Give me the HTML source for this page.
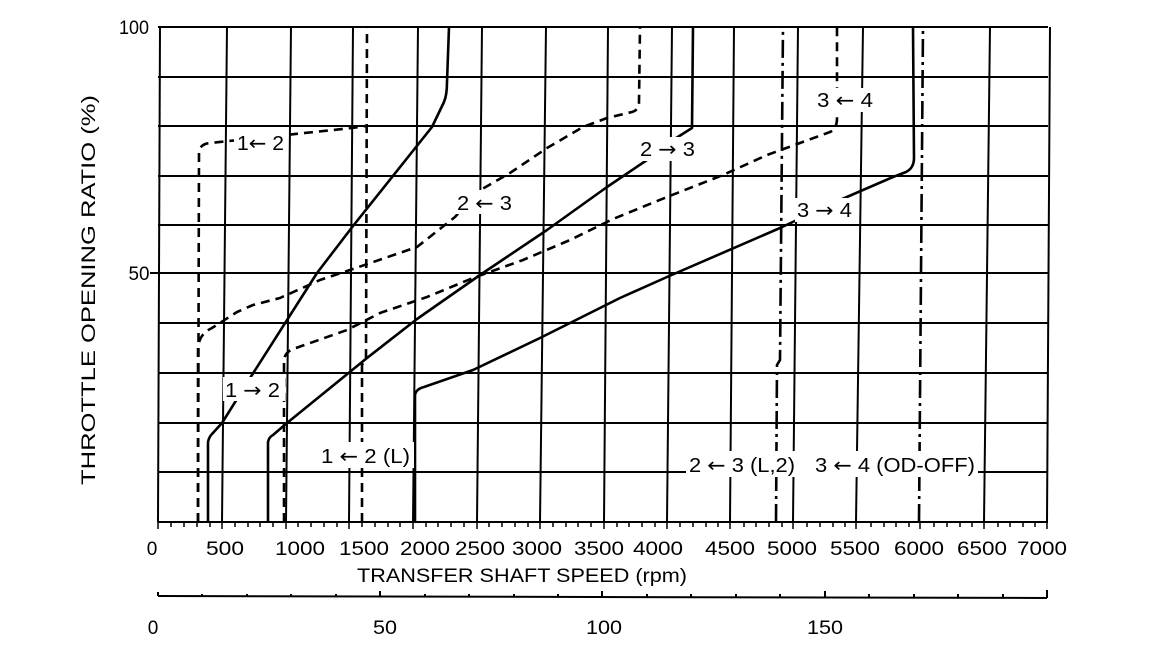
<!DOCTYPE html>
<html><head><meta charset="utf-8"><style>
html,body{margin:0;padding:0;background:#fff;}
svg{display:block;}
text{font-family:"Liberation Sans",sans-serif;fill:#000;}
.ar{font-family:"DejaVu Sans",sans-serif;}
</style></head><body>
<svg width="1152" height="652" viewBox="0 0 1152 652" xmlns="http://www.w3.org/2000/svg">
<rect width="1152" height="652" fill="#fff"/>
<g stroke="#000" stroke-width="2" fill="none">
<line x1="158" y1="27" x2="1048" y2="27"/>
<line x1="158" y1="77" x2="1048" y2="77"/>
<line x1="158" y1="126" x2="1048" y2="126"/>
<line x1="158" y1="176" x2="1048" y2="176"/>
<line x1="158" y1="225" x2="1048" y2="225"/>
<line x1="150" y1="273" x2="1048" y2="273"/>
<line x1="158" y1="323" x2="1048" y2="323"/>
<line x1="158" y1="373" x2="1048" y2="373"/>
<line x1="158" y1="423" x2="1048" y2="423"/>
<line x1="158" y1="472" x2="1048" y2="472"/>
<line x1="158" y1="522" x2="1048" y2="522"/>
<line x1="160" y1="27" x2="158" y2="522"/>
<line x1="227" y1="27" x2="222" y2="522"/>
<line x1="291" y1="27" x2="286" y2="522"/>
<line x1="353" y1="27" x2="349" y2="522"/>
<line x1="418" y1="27" x2="413" y2="522"/>
<line x1="482" y1="27" x2="477" y2="522"/>
<line x1="546" y1="27" x2="540" y2="522"/>
<line x1="608" y1="27" x2="604" y2="522"/>
<line x1="672" y1="27" x2="667" y2="522"/>
<line x1="734" y1="27" x2="730" y2="522"/>
<line x1="798" y1="27" x2="793" y2="522"/>
<line x1="863" y1="27" x2="856" y2="522"/>
<line x1="990" y1="27" x2="984" y2="522"/>
<line x1="1050" y1="27" x2="1047" y2="522"/>
</g>
<g stroke="#000" stroke-width="1.5">
<path d="M171 522v5M184 522v5M197 522v5M210 522v5M235 522v5M248 522v5M260 522v5M273 522v5M298 522v5M311 522v5M324 522v5M337 522v5M362 522v5M375 522v5M388 522v5M400 522v5M426 522v5M438 522v5M451 522v5M464 522v5M489 522v5M502 522v5M515 522v5M528 522v5M553 522v5M566 522v5M578 522v5M591 522v5M617 522v5M629 522v5M642 522v5M655 522v5M680 522v5M693 522v5M706 522v5M718 522v5M744 522v5M756 522v5M769 522v5M782 522v5M807 522v5M820 522v5M833 522v5M845 522v5M871 522v5M884 522v5M896 522v5M909 522v5M934 522v5M947 522v5M960 522v5M972 522v5M998 522v5M1010 522v5M1023 522v5M1035 522v5"/>
<path d="M158 522v7M222 522v7M286 522v7M349 522v7M413 522v7M477 522v7M540 522v7M604 522v7M667 522v7M730 522v7M793 522v7M856 522v7M920 522v7M984 522v7M1047 522v7"/>
</g>
<g stroke="#000" stroke-width="2">
<line x1="158" y1="596" x2="1047" y2="598"/>
<path d="M158 592v4M202 594v3M247 594v3M291 594v3M336 594v3M380 591v6M425 594v3M469 594v3M514 594v3M558 594v3M602 591v6M647 594v3M691 594v3M736 594v3M780 594v3M825 591v6M869 594v3M914 594v3M958 594v3M1003 594v3M1047 590v8"/>
</g>
<g fill="none" stroke="#000" stroke-width="2.6" stroke-linejoin="round">
<path d="M208 522 L208 442 Q209 437 212 434 L222 423 L252 375 L317 273 L353 226 L432 127 L444 102 Q447 95 447 82 L449 27"/>
<path d="M268 522 L268 442 Q269 437 273 435 L287 423 L367 358 L417 319 L480 275 L547 230 L607 187 L650 158 L673 140 L692 128 L693 27"/>
<path d="M415 522 L415 395 Q416 389 424 387 L473 370 L540 338 L620 298 L667 277 L780 228 L833 203 L893 177 L906 172 Q914 168 914 158 L913 27"/>
</g>
<g fill="none" stroke="#000" stroke-width="2.6" stroke-dasharray="9,6" stroke-linejoin="round">
<path d="M198 522 L199 152 Q200 144 210 143 L352 128 L366 126"/>
<path d="M362 522 L362 365 L366 358 L367 27"/>
<path d="M198 522 L198 348 Q199 334 212 328 L237 312 L253 305 L280 298 L320 280 L350 270 L417 247 L455 217 L477 192 L510 173 L547 148 L583 127 L607 118 L632 112 Q639 110 639 102 L640 27"/>
<path d="M284 522 L284 360 Q285 351 296 348 L347 330 L380 313 L427 297 L473 278 L523 260 L570 240 L613 219 L667 197 L723 175 L767 155 L800 143 L830 132 Q837 129 837 118 L837 27"/>
</g>
<g fill="none" stroke="#000" stroke-width="2.6" stroke-dasharray="18,5,3,5">
<path d="M776 522 L777 365 L780 360 L783 27"/>
<path d="M919 522 L923 27"/>
</g>
<g fill="#fff">
<rect x="234" y="131" width="52" height="22"/>
<rect x="455" y="190" width="60" height="24"/>
<rect x="223" y="377" width="62" height="24"/>
<rect x="638" y="137" width="60" height="24"/>
<rect x="815" y="88" width="62" height="24"/>
<rect x="795" y="198" width="60" height="24"/>
<rect x="318" y="442" width="96" height="26"/>
<rect x="686" y="451" width="292" height="26"/>
</g>
<g font-size="20">
<text x="237" y="150" textLength="47" lengthAdjust="spacingAndGlyphs">1<tspan class="ar">←</tspan> 2</text>
<text x="457" y="210" textLength="55" lengthAdjust="spacingAndGlyphs">2 <tspan class="ar">←</tspan> 3</text>
<text x="225" y="397" textLength="55" lengthAdjust="spacingAndGlyphs">1 <tspan class="ar">→</tspan> 2</text>
<text x="640" y="156" textLength="55" lengthAdjust="spacingAndGlyphs">2 <tspan class="ar">→</tspan> 3</text>
<text x="817" y="107" textLength="56" lengthAdjust="spacingAndGlyphs">3 <tspan class="ar">←</tspan> 4</text>
<text x="797" y="217" textLength="55" lengthAdjust="spacingAndGlyphs">3 <tspan class="ar">→</tspan> 4</text>
<text x="321" y="463" textLength="89" lengthAdjust="spacingAndGlyphs">1 <tspan class="ar">←</tspan> 2 (L)</text>
<text x="689" y="472" textLength="106" lengthAdjust="spacingAndGlyphs">2 <tspan class="ar">←</tspan> 3 (L,2)</text>
<text x="815" y="472" textLength="160" lengthAdjust="spacingAndGlyphs">3 <tspan class="ar">←</tspan> 4 (OD-OFF)</text>
</g>
<g font-size="19" text-anchor="middle">
<text x="134" y="34" textLength="30" lengthAdjust="spacingAndGlyphs">100</text>
<text x="139" y="280" textLength="21" lengthAdjust="spacingAndGlyphs">50</text>
<text x="152" y="555">0</text>
<text x="225" y="555" textLength="38" lengthAdjust="spacingAndGlyphs">500</text>
<text x="300" y="555" textLength="50" lengthAdjust="spacingAndGlyphs">1000</text>
<text x="364" y="555" textLength="50" lengthAdjust="spacingAndGlyphs">1500</text>
<text x="425" y="555" textLength="50" lengthAdjust="spacingAndGlyphs">2000</text>
<text x="480" y="555" textLength="50" lengthAdjust="spacingAndGlyphs">2500</text>
<text x="537" y="555" textLength="50" lengthAdjust="spacingAndGlyphs">3000</text>
<text x="599" y="555" textLength="50" lengthAdjust="spacingAndGlyphs">3500</text>
<text x="658" y="555" textLength="50" lengthAdjust="spacingAndGlyphs">4000</text>
<text x="730" y="555" textLength="50" lengthAdjust="spacingAndGlyphs">4500</text>
<text x="792" y="555" textLength="50" lengthAdjust="spacingAndGlyphs">5000</text>
<text x="855" y="555" textLength="50" lengthAdjust="spacingAndGlyphs">5500</text>
<text x="919" y="555" textLength="50" lengthAdjust="spacingAndGlyphs">6000</text>
<text x="982" y="555" textLength="50" lengthAdjust="spacingAndGlyphs">6500</text>
<text x="1042" y="555" textLength="50" lengthAdjust="spacingAndGlyphs">7000</text>
<text x="522" y="582" textLength="330" lengthAdjust="spacingAndGlyphs">TRANSFER SHAFT SPEED (rpm)</text>
<text x="153" y="634">0</text>
<text x="385" y="634" textLength="24" lengthAdjust="spacingAndGlyphs">50</text>
<text x="604" y="634" textLength="36" lengthAdjust="spacingAndGlyphs">100</text>
<text x="825" y="634" textLength="36" lengthAdjust="spacingAndGlyphs">150</text>
<text transform="translate(95,290) rotate(-90)" textLength="390" lengthAdjust="spacingAndGlyphs">THROTTLE OPENING RATIO (%)</text>
</g>
</svg>
</body></html>
